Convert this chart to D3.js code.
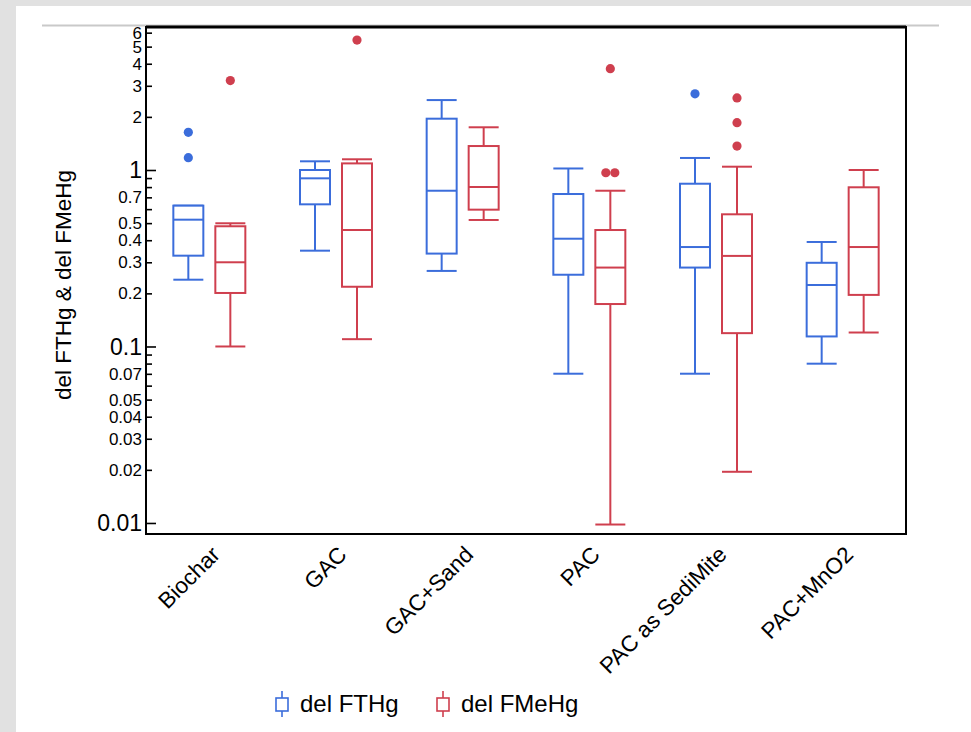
<!DOCTYPE html>
<html>
<head>
<meta charset="utf-8">
<script src="https://cdn.jsdelivr.net/npm/d3@7"></script>
<style>
  html, body { margin: 0; padding: 0; background: #e1e1e1; }
  svg { display: block; }
  text { font-family: "Liberation Sans", Arial, Helvetica, sans-serif; fill: #000; }
</style>
</head>
<body>
<svg id="chart" width="971" height="732"></svg>
<script>
// ---------- data ----------
const categories = ["Biochar", "GAC", "GAC+Sand", "PAC", "PAC as SediMite", "PAC+MnO2"];
const seriesNames = ["del FTHg", "del FMeHg"];
const seriesColors = ["#3b6ddb", "#cf3f4e"];

const fthgMin = [0.239, 0.349, 0.268, 0.0701, 0.0701, 0.0799];
const fthgQ1  = [0.327, 0.639, 0.336, 0.255, 0.280, 0.114];
const fthgMed = [0.523, 0.897, 0.763, 0.408, 0.366, 0.223];
const fthgQ3  = [0.628, 1.000, 1.953, 0.731, 0.836, 0.298];
const fthgMax = [0.628, 1.120, 2.490, 1.020, 1.170, 0.391];
const fthgOut = [[1.635, 1.174], [], [], [], [2.70], []];

const fmehgMin = [0.100, 0.110, 0.521, 0.0098, 0.0195, 0.120];
const fmehgQ1  = [0.201, 0.218, 0.596, 0.174, 0.119, 0.196];
const fmehgMed = [0.300, 0.457, 0.801, 0.280, 0.326, 0.366];
const fmehgQ3  = [0.480, 1.090, 1.367, 0.457, 0.561, 0.798];
const fmehgMax = [0.499, 1.150, 1.746, 0.763, 1.044, 1.000];
const fmehgOut = [[3.21], [5.45], [], [3.75, 0.965, 0.965], [2.56, 1.853, 1.367], []];

const yTickLabels = [6, 5, 4, 3, 2, 1, 0.7, 0.5, 0.4, 0.3, 0.2, 0.1, 0.07, 0.05, 0.04, 0.03, 0.02, 0.01];
const yMajor = [1, 0.1, 0.01];
const yTitle = "del FTHg & del FMeHg";

// ---------- layout ----------
const W = 971, H = 732;
const plot = { left: 146, right: 906, top: 27, bottom: 534 };

const svg = d3.select("#chart");
svg.append("rect").attr("x", 16).attr("y", 6).attr("width", W - 16).attr("height", H - 6).attr("fill", "#fff");
svg.append("line").attr("x1", 42).attr("x2", 939).attr("y1", 25.5).attr("y2", 25.5)
  .attr("stroke", "#c9c9c9").attr("stroke-width", 2);

const y = d3.scaleLog().domain([0.00866, 6.46]).range([plot.bottom, plot.top]);
const x = d3.scaleBand().domain(categories).range([plot.left, plot.right]);
const xs = d3.scalePoint().domain(seriesNames).range([-21, 21]);
const boxW = 30;

// y axis ticks (inside) via d3 axis
const allTicks = y.ticks().filter(v => v >= 0.0099 && v <= 6.01);
const axisG = svg.append("g").attr("transform", `translate(${plot.left},0)`);
axisG.call(d3.axisRight(y).tickValues(allTicks).tickSize(6).tickFormat(""))
  .call(g => g.select(".domain").remove());
axisG.selectAll(".tick line")
  .attr("x2", d => yMajor.some(m => Math.abs(m - d) < 1e-9) ? 10 : 6)
  .attr("stroke", "#000").attr("stroke-width", 1.6);

// tick labels
svg.append("g").selectAll("text").data(yTickLabels).join("text")
  .attr("x", plot.left - 4)
  .attr("y", d => y(d))
  .attr("dy", "0.36em")
  .attr("text-anchor", "end")
  .style("font-size", d => yMajor.includes(d) ? "23px" : "17px")
  .text(d => d);

// y title
svg.append("text")
  .attr("transform", `translate(71,285) rotate(-90)`)
  .attr("text-anchor", "middle")
  .style("font-size", "22.5px")
  .text(yTitle);

// x labels
svg.append("g").selectAll("text").data(categories).join("text")
  .attr("transform", d => `translate(${x(d) + x.bandwidth() / 2 + 12},${plot.bottom + 22}) rotate(-45)`)
  .attr("text-anchor", "end")
  .style("font-size", "22.5px")
  .text(d => d);

// ---------- boxes ----------
const series = [
  { name: seriesNames[0], color: seriesColors[0], min: fthgMin, q1: fthgQ1, med: fthgMed, q3: fthgQ3, max: fthgMax, out: fthgOut },
  { name: seriesNames[1], color: seriesColors[1], min: fmehgMin, q1: fmehgQ1, med: fmehgMed, q3: fmehgQ3, max: fmehgMax, out: fmehgOut }
];

const boxesG = svg.append("g");
series.forEach(s => {
  const rows = categories.map((c, i) => ({
    cx: x(c) + x.bandwidth() / 2 + xs(s.name),
    min: s.min[i], q1: s.q1[i], med: s.med[i], q3: s.q3[i], max: s.max[i], out: s.out[i]
  }));
  const g = boxesG.append("g").attr("stroke", s.color).attr("stroke-width", 2).attr("fill", "none");
  rows.forEach(r => {
    g.append("line").attr("x1", r.cx).attr("x2", r.cx).attr("y1", y(r.max)).attr("y2", y(r.q3));
    g.append("line").attr("x1", r.cx).attr("x2", r.cx).attr("y1", y(r.q1)).attr("y2", y(r.min));
    g.append("line").attr("x1", r.cx - boxW / 2).attr("x2", r.cx + boxW / 2).attr("y1", y(r.max)).attr("y2", y(r.max));
    g.append("line").attr("x1", r.cx - boxW / 2).attr("x2", r.cx + boxW / 2).attr("y1", y(r.min)).attr("y2", y(r.min));
    g.append("rect").attr("x", r.cx - boxW / 2).attr("width", boxW)
      .attr("y", y(r.q3)).attr("height", y(r.q1) - y(r.q3)).attr("fill", "#fff");
    g.append("line").attr("x1", r.cx - boxW / 2).attr("x2", r.cx + boxW / 2).attr("y1", y(r.med)).attr("y2", y(r.med));
    const counts = d3.rollup(r.out, v => v.length, d => d);
    const seen = new Map();
    r.out.forEach(v => {
      const n = counts.get(v), k = seen.get(v) || 0;
      seen.set(v, k + 1);
      const dx = (k - (n - 1) / 2) * 9;
      svg.append("circle").attr("cx", r.cx + dx).attr("cy", y(v)).attr("r", 4.6).attr("fill", s.color);
    });
  });
});

// frame
svg.append("rect").attr("x", plot.left).attr("y", plot.top)
  .attr("width", plot.right - plot.left).attr("height", plot.bottom - plot.top)
  .attr("fill", "none").attr("stroke", "#000").attr("stroke-width", 2);
svg.append("line").attr("x1", plot.left).attr("x2", plot.right).attr("y1", plot.top).attr("y2", plot.top)
  .attr("stroke", "#000").attr("stroke-width", 3);

// ---------- legend ----------
const legend = svg.append("g");
const legendX = [276, 437];
series.forEach((s, i) => {
  const lg = legend.append("g").attr("transform", `translate(${legendX[i]},704)`);
  lg.append("line").attr("x1", 6).attr("x2", 6).attr("y1", -13).attr("y2", 13).attr("stroke", s.color).attr("stroke-width", 1.6);
  lg.append("rect").attr("x", 0).attr("y", -6).attr("width", 12).attr("height", 13)
    .attr("fill", "#fff").attr("stroke", s.color).attr("stroke-width", 1.6);
  lg.append("text").attr("x", 24).attr("y", 0).attr("dy", "0.35em").style("font-size", "24px").text(s.name);
});
</script>
</body>
</html>
